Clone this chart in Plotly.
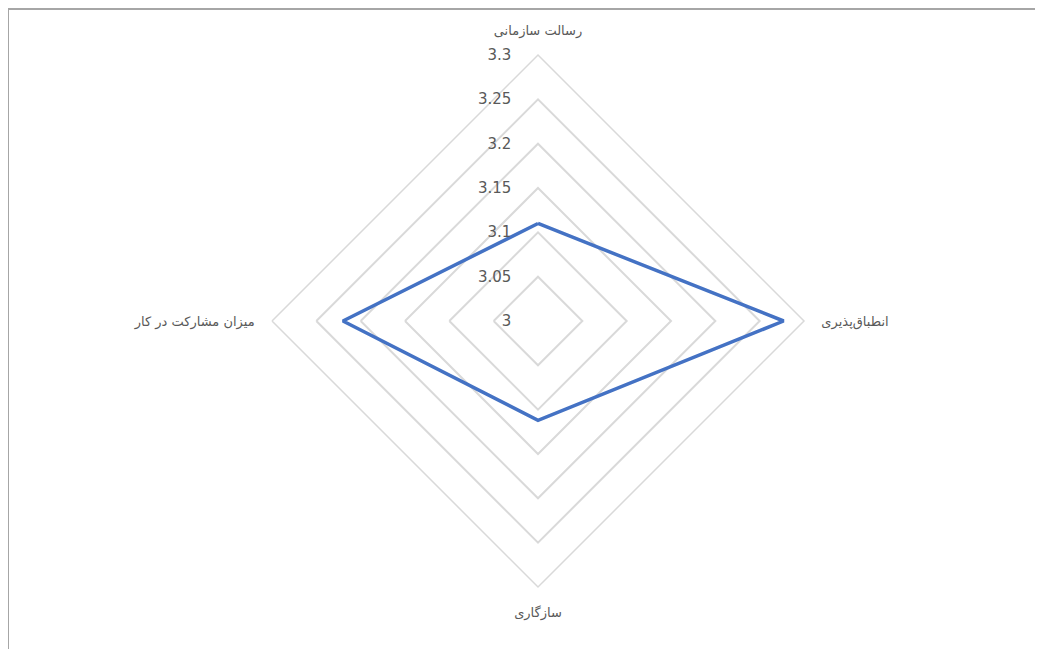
import plotly.graph_objects as go

categories = ["رسالت سازمانی", "انطباق‌پذیری", "سازگاری", "میزان مشارکت در کار"]
values = [3.11, 3.277, 3.112, 3.22]
tick_vals = [3, 3.05, 3.1, 3.15, 3.2, 3.25, 3.3]
tick_text = ["3", "3.05", "3.1", "3.15", "3.2", "3.25", "3.3"]

# page body has an 8px margin, so the figure is placed at (8, 8)
OFF = 8
W, H = 1043 - OFF, 649 - OFF
cx, cy, R = 538 - OFF, 321 - OFF, 266

pad = "\u00a0" * 5

fig = go.Figure()
fig.add_trace(go.Scatterpolar(
    r=values + values[:1],
    theta=categories + categories[:1],
    mode="lines",
    line=dict(color="#4472C4", width=3.5),
    showlegend=False,
    hoverinfo="r+theta",
))

fig.update_layout(
    width=W, height=H,
    margin=dict(l=0, r=0, t=0, b=0),
    paper_bgcolor="white",
    plot_bgcolor="white",
    font=dict(family="DejaVu Sans, Liberation Sans", color="#595959", size=13),
    polar=dict(
        domain=dict(x=[(cx - R) / W, (cx + R) / W], y=[(H - cy - R) / H, (H - cy + R) / H]),
        gridshape="linear",
        bgcolor="white",
        radialaxis=dict(
            range=[3, 3.3],
            tickvals=tick_vals,
            ticktext=[t + pad for t in tick_text],
            angle=90,
            tickangle=90,
            side="counterclockwise",
            showline=False,
            ticks="",
            gridcolor="#d9d9d9",
            gridwidth=1.5,
            tickfont=dict(size=15, color="#595959", family="DejaVu Sans, Liberation Sans"),
        ),
        angularaxis=dict(
            categoryorder="array",
            categoryarray=categories,
            rotation=90,
            direction="clockwise",
            showgrid=False,
            showline=True,
            linecolor="#d9d9d9",
            linewidth=1.5,
            ticks="outside",
            ticklen=14,
            tickcolor="rgba(0,0,0,0)",
            tickfont=dict(size=13, color="#595959", family="DejaVu Sans"),
        ),
    ),
    shapes=[
        dict(type="line", xref="paper", yref="paper", x0=0, x1=1, y0=1 - 1 / H, y1=1 - 1 / H,
             line=dict(color="#a6a6a6", width=2)),
        dict(type="line", xref="paper", yref="paper", x0=0, x1=0, y0=0, y1=1,
             line=dict(color="#a6a6a6", width=2)),
    ],
)

fig.write_html("out.html")
